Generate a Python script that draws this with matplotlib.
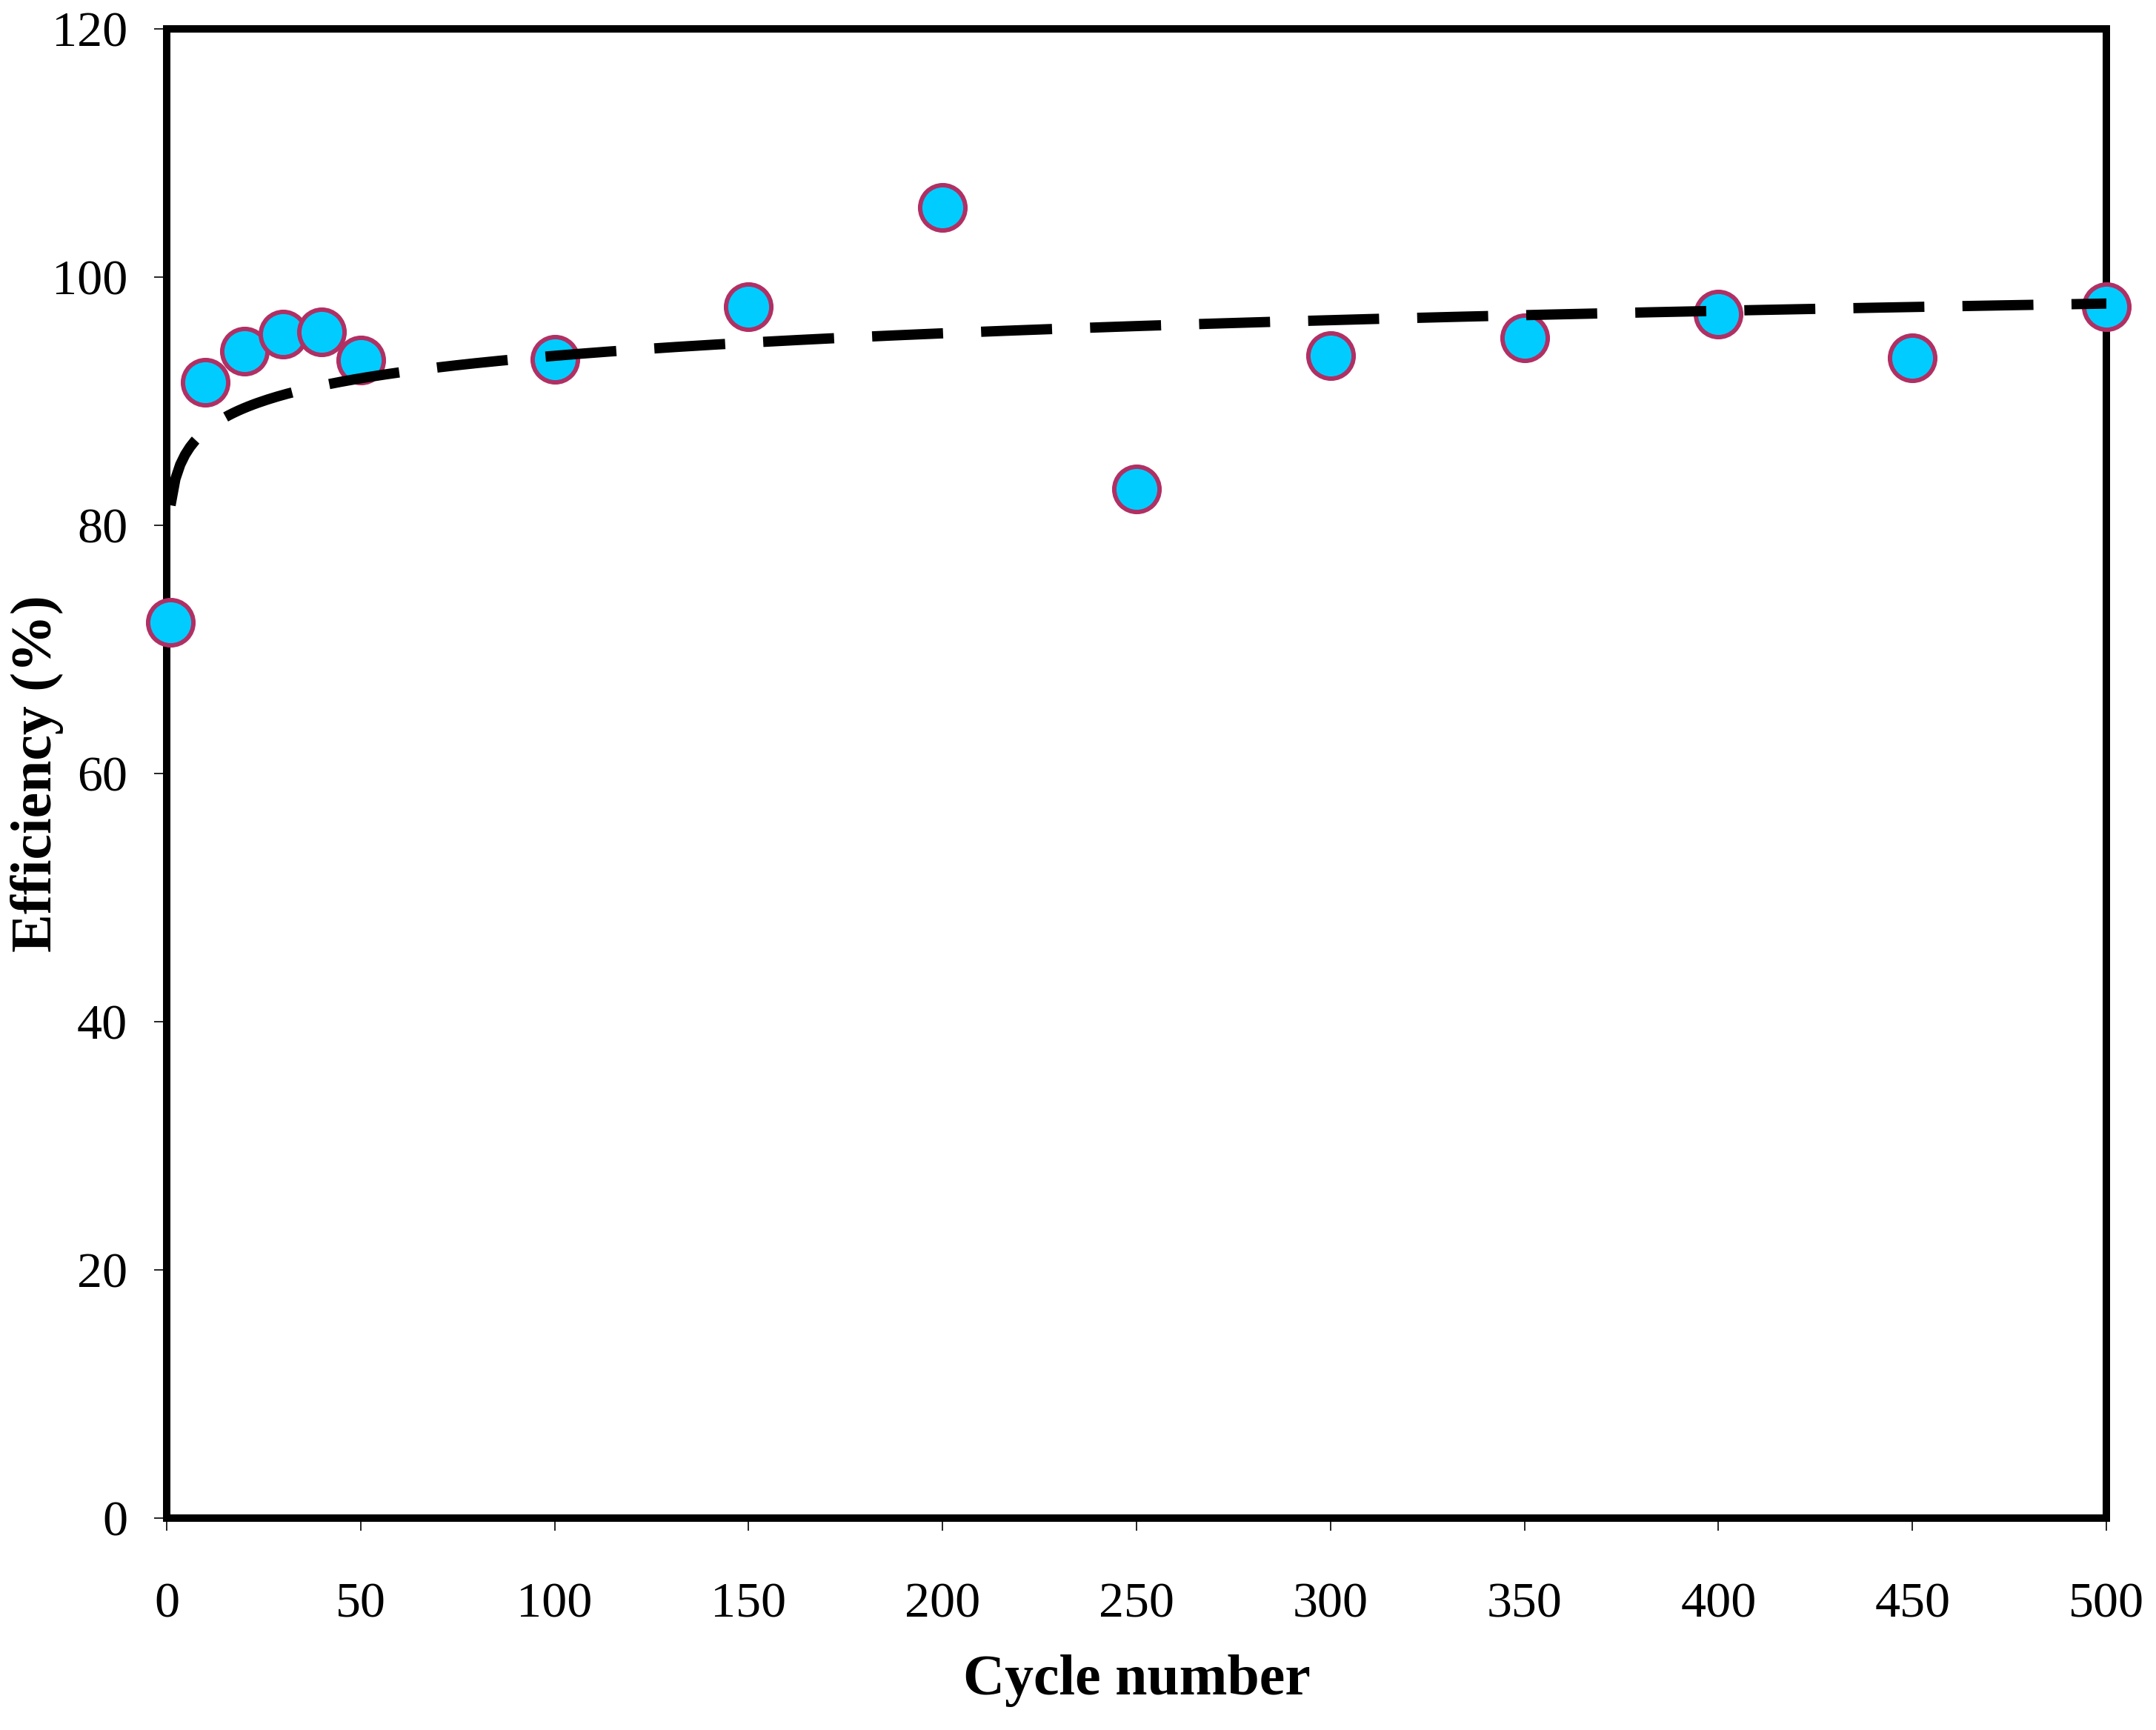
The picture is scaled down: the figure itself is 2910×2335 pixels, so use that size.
import matplotlib
matplotlib.use('Agg')
import matplotlib.pyplot as plt
import numpy as np


CYCLES = [1, 10, 20, 30, 40, 50, 100, 150, 200, 250, 300, 350, 400, 450, 500]
EFFICIENCY = [72.2, 91.5, 94.0, 95.4, 95.6, 93.3, 93.4, 97.6, 105.6,
              82.9, 93.7, 95.1, 97.0, 93.5, 97.6]
X_TICKS = list(range(0, 501, 50))
Y_TICKS = list(range(0, 121, 20))

FILL = '#00CCFF'
EDGE = '#B03064'


def main():
    plt.rcParams['font.family'] = ['Liberation Serif', 'DejaVu Serif']
    fig = plt.figure(figsize=(29.1, 23.35), dpi=100)
    ax = fig.add_axes([0.0773, 0.1225, 0.8997, 0.8608])

    # logarithmic trend line (least squares on ln x), as in the source
    x = np.array(CYCLES, dtype=float)
    y = np.array(EFFICIENCY)
    a, b = np.polyfit(np.log(x), y, 1)
    xs = np.linspace(x.min(), x.max(), 400)
    line, = ax.plot(xs, a * np.log(xs) + b, color='black', lw=10,
                    zorder=4, solid_capstyle='butt', dash_capstyle='butt')
    line.set_dashes([6.9, 3.7])

    ax.plot(CYCLES, EFFICIENCY, 'o', ms=44, mfc=FILL, mec=EDGE, mew=4.3,
            zorder=3, clip_on=False)

    ax.set_xlim(0, 500)
    ax.set_ylim(0, 120)
    ax.set_xticks(X_TICKS)
    ax.set_yticks(Y_TICKS)
    for s in ax.spines.values():
        s.set_linewidth(7.2)
    ax.tick_params(axis='both', direction='out', length=12, width=1.2,
                   labelsize=49)
    ax.tick_params(axis='x', pad=50)
    ax.tick_params(axis='y', pad=26)

    ax.set_xlabel('Cycle number', fontsize=56, fontweight='bold')
    ax.set_ylabel('Efficiency (%)', fontsize=56, fontweight='bold')
    ax.xaxis.label.set_va('center')
    ax.yaxis.label.set_va('center')
    ax.xaxis.set_label_coords(0.5, -0.109)
    ax.yaxis.set_label_coords(-0.0668, 0.5)

    fig.savefig('out.png', dpi=100)
    plt.close(fig)


if __name__ == '__main__':
    main()
